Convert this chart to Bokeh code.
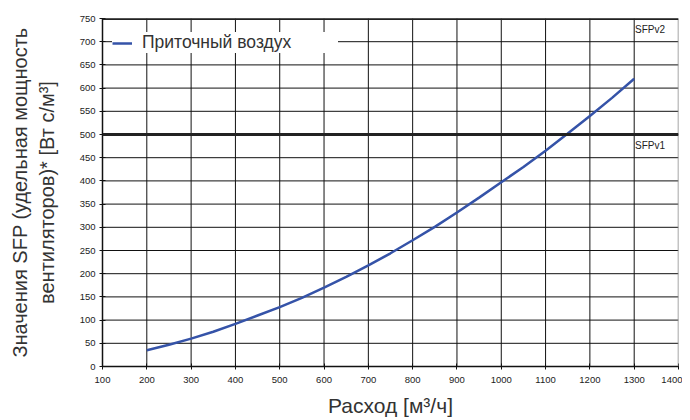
from bokeh.plotting import figure
from bokeh.models import Span, Label, Legend, LegendItem, FixedTicker, Range1d
from bokeh.embed import file_html
from bokeh.resources import INLINE

flow = [200, 250, 300, 350, 400, 450, 500, 550, 600, 650, 700, 750, 800, 850, 900, 950, 1000, 1050, 1100, 1150, 1200, 1250, 1300]
sfp = [35, 47, 60, 75, 92, 110, 128, 148, 170, 193, 218, 244, 272, 301, 332, 364, 397, 430, 465, 502, 540, 579, 620]
x_ticks = list(range(100, 1401, 100))
y_ticks = list(range(0, 751, 50))
series_name = "Приточный воздух"
limits = [(500, "SFPv1"), (750, "SFPv2")]

p = figure(width=682, height=419, output_backend="svg", toolbar_location=None,
           x_range=Range1d(100, 1400), y_range=Range1d(0, 750),
           min_border_left=102, min_border_right=4, min_border_top=18, min_border_bottom=52)
p.outline_line_color = None
p.background_fill_color = "white"

FONT = "Liberation Sans"
for ax in (p.xaxis[0], p.yaxis[0]):
    ax.major_label_text_font = FONT
    ax.major_label_text_font_size = "9.5px"
    ax.major_label_text_color = "#222222"
    ax.axis_line_color = "#111111"
    ax.axis_line_width = 1.5
    ax.major_tick_line_color = "#111111"
    ax.major_tick_in = 3
    ax.major_tick_out = 3
    ax.minor_tick_line_color = None
    ax.axis_label_text_font = FONT
    ax.axis_label_text_font_style = "normal"
    ax.axis_label_text_color = "#333333"

p.xaxis.ticker = FixedTicker(ticks=x_ticks)
p.yaxis.ticker = FixedTicker(ticks=y_ticks)
p.xaxis.axis_label = "Расход [м³/ч]"
p.yaxis.axis_label = "Значения SFP (удельная мощность\nвентиляторов)* [Вт с/м³]"
p.xaxis.axis_label_text_font_size = "21px"
p.yaxis.axis_label_text_font_size = "20px"
p.xaxis.major_label_standoff = 7
p.yaxis.major_label_standoff = 4
p.xaxis.axis_label_standoff = 8
p.yaxis.axis_label_standoff = 19

p.xgrid.visible = False
p.ygrid.visible = False
for t in x_ticks[1:-1]:
    p.add_layout(Span(location=t, dimension="height", line_color="#111111", line_width=1, level="underlay"))
for t in y_ticks[1:]:
    p.add_layout(Span(location=t, dimension="width", line_color="#111111", line_width=1, level="underlay"))

# right border
p.add_layout(Span(location=1400, dimension="height", line_color="#888888", line_width=1.5))

for val, name in limits:
    p.add_layout(Span(location=val, dimension="width", line_color="#222222", line_width=3))
    p.add_layout(Label(x=1302, y=val, y_offset=-5, text=name, text_baseline="top",
                       text_font=FONT, text_font_size="10px", text_color="#222222"))

r = p.line(flow, sfp, line_color="#3553a8", line_width=2.5)

legend = Legend(items=[LegendItem(label=series_name, renderers=[r])],
                location=(10, 313), border_line_color=None,
                background_fill_color="white", background_fill_alpha=1,
                label_text_font=FONT, label_text_font_size="17.5px", label_text_color="#333333",
                glyph_width=20, label_standoff=10, padding=4, margin=0, label_height=20,
                label_width=196)
p.add_layout(legend)

open("out.html", "w").write(file_html(p, INLINE))
